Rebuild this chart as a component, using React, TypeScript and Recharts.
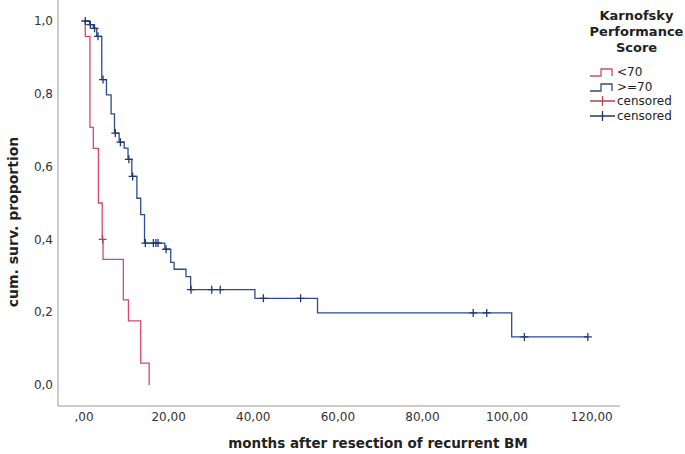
import { ComposedChart, Line, Scatter, XAxis, YAxis, Label } from "recharts";

// KM steps: t = months, v = cum. survival after the drop at t
const lowKps = [
  { t: 0, v: 1 }, { t: 0.3, v: 0.958 }, { t: 1.4, v: 0.708 }, { t: 2.2, v: 0.65 },
  { t: 3.4, v: 0.5 }, { t: 4.3, v: 0.4 }, { t: 4.5, v: 0.345 }, { t: 9.3, v: 0.234 },
  { t: 10.5, v: 0.176 }, { t: 13.4, v: 0.06 }, { t: 15.4, v: 0 },
];
const lowKpsCensored = [{ t: 4.4, v: 0.4 }];

const highKps = [
  { t: 0, v: 1 }, { t: 1.3, v: 0.99 }, { t: 2.2, v: 0.98 }, { t: 3.0, v: 0.958 },
  { t: 4.2, v: 0.839 }, { t: 5.3, v: 0.797 }, { t: 6.4, v: 0.745 }, { t: 7.2, v: 0.692 },
  { t: 8.3, v: 0.667 }, { t: 9.5, v: 0.651 }, { t: 10.4, v: 0.62 }, { t: 11.3, v: 0.573 },
  { t: 12.5, v: 0.513 }, { t: 13.4, v: 0.468 }, { t: 14.3, v: 0.39 }, { t: 19.1, v: 0.373 },
  { t: 20.5, v: 0.337 }, { t: 21.3, v: 0.318 }, { t: 24.1, v: 0.298 }, { t: 25.2, v: 0.262 },
  { t: 40.4, v: 0.238 }, { t: 55.2, v: 0.198 }, { t: 101.1, v: 0.132 }, { t: 119.1, v: 0.132 },
];
const highKpsCensored = [
  { t: 0.3, v: 1 }, { t: 1.5, v: 0.99 }, { t: 2.5, v: 0.98 }, { t: 3.3, v: 0.958 },
  { t: 4.5, v: 0.839 }, { t: 7.4, v: 0.692 }, { t: 8.6, v: 0.667 }, { t: 10.6, v: 0.62 },
  { t: 11.5, v: 0.573 }, { t: 14.5, v: 0.39 }, { t: 16.4, v: 0.39 }, { t: 17.0, v: 0.39 },
  { t: 17.5, v: 0.39 }, { t: 19.4, v: 0.373 }, { t: 25.3, v: 0.262 }, { t: 30.2, v: 0.262 },
  { t: 32.2, v: 0.262 }, { t: 42.4, v: 0.238 }, { t: 51.2, v: 0.238 }, { t: 92.0, v: 0.198 },
  { t: 95.2, v: 0.198 }, { t: 104.1, v: 0.132 }, { t: 119.1, v: 0.132 },
];

const xTicks = [0, 20, 40, 60, 80, 100, 120];
const yTicks = [0, 0.2, 0.4, 0.6, 0.8, 1.0];
const legendTitle = ["Karnofsky", "Performance", "Score"];
const legendItems = [
  { label: "<70", color: "#d9466f", kind: "step" },
  { label: ">=70", color: "#2d4c8c", kind: "step" },
  { label: "censored", color: "#b8404f", kind: "cross" },
  { label: "censored", color: "#22386f", kind: "cross" },
];

const RED = "#d9466f";
const BLUE = "#2d4c8c";
const font = "'DejaVu Sans', sans-serif";

const cross = (color: string) => (props: any) => {
  const { cx, cy } = props;
  return (
    <path
      d={`M${cx - 4},${cy}H${cx + 4}M${cx},${cy - 4}V${cy + 4}`}
      stroke={color}
      strokeWidth={1.3}
      fill="none"
    />
  );
};

function KpsLegend() {
  return (
    <div style={{ position: "absolute", left: 589, top: 0, width: 95, fontFamily: font }}>
      <div style={{ fontWeight: "bold", fontSize: 13, textAlign: "center", lineHeight: "16px", color: "#222", marginTop: 8 }}>
        {legendTitle.map((l) => (
          <div key={l}>{l}</div>
        ))}
      </div>
      <div style={{ marginTop: 9 }}>
        {legendItems.map((it, i) => (
          <div key={i} style={{ display: "flex", alignItems: "center", height: 14.5, fontSize: 12, color: "#222" }}>
            <svg width={27} height={12}>
              {it.kind === "step" ? (
                <path d="M1,10H12V3H23V10" stroke={it.color} strokeWidth={1.3} fill="none" />
              ) : (
                <path d="M1,6H26M13.5,1V11" stroke={it.color} strokeWidth={1.3} fill="none" />
              )}
            </svg>
            <span style={{ marginLeft: 1 }}>{it.label}</span>
          </div>
        ))}
      </div>
    </div>
  );
}

const fmtY = (v: number) => v.toFixed(1).replace(".", ",");
const fmtX = (v: number) => (v === 0 ? ",00" : v.toFixed(2).replace(".", ","));

export default function App() {
  return (
    <div style={{ position: "absolute", left: 0, top: 0, width: 685, height: 454, background: "#fff" }}>
      <ComposedChart width={685} height={454} margin={{ top: 0, right: 65, left: 0, bottom: 0 }}>
        <XAxis
          dataKey="t"
          type="number"
          domain={[-6.15, 126.7]}
          allowDataOverflow
          ticks={xTicks}
          tickFormatter={fmtX}
          tickLine={false}
          tickSize={0}
          tickMargin={6}
          height={48}
          stroke="#999"
          tick={{ fill: "#333", fontSize: 12, fontFamily: font }}
        >
          <Label
            content={() => (
              <text x={378} y={448} textAnchor="middle" fontFamily={font} fontWeight="bold" fontSize={13.5} fill="#222">
                months after resection of recurrent BM
              </text>
            )}
          />
        </XAxis>
        <YAxis
          type="number"
          domain={[-0.0577, 1.0577]}
          allowDataOverflow
          ticks={yTicks}
          tickFormatter={fmtY}
          tickLine={false}
          tickSize={0}
          tickMargin={5}
          width={58}
          stroke="#999"
          tick={{ fill: "#333", fontSize: 12, fontFamily: font }}
        >
          <Label
            content={() => (
              <text
                x={13}
                y={222}
                transform="rotate(-90, 13, 222)"
                textAnchor="middle"
                dominantBaseline="central"
                fontFamily={font}
                fontWeight="bold"
                fontSize={14}
                fill="#222"
              >
                cum. surv. proportion
              </text>
            )}
          />
        </YAxis>
        <Line data={lowKps} dataKey="v" type="stepAfter" stroke={RED} strokeWidth={1.3} dot={false} isAnimationActive={false} />
        <Line data={highKps} dataKey="v" type="stepAfter" stroke={BLUE} strokeWidth={1.3} dot={false} isAnimationActive={false} />
        <Scatter data={lowKpsCensored} dataKey="v" shape={cross("#b8404f")} isAnimationActive={false} />
        <Scatter data={highKpsCensored} dataKey="v" shape={cross("#22386f")} isAnimationActive={false} />
      </ComposedChart>
      <KpsLegend />
    </div>
  );
}
